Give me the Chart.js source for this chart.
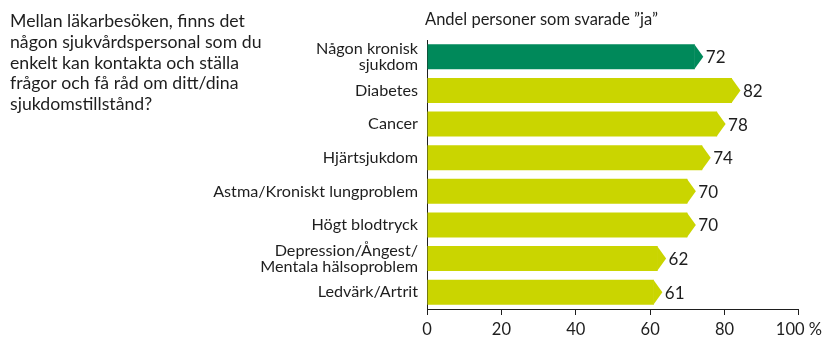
<!DOCTYPE html>
<html>
<head>
<meta charset="utf-8">
<script src="https://cdn.jsdelivr.net/npm/chart.js@4/dist/chart.umd.min.js"></script>
<style>
  html, body { margin: 0; padding: 0; background: #fff; }
  #wrap { width: 827px; height: 338px; position: relative; }
</style>
</head>
<body>
<div id="wrap"><canvas id="c" width="827" height="338"></canvas></div>
<script>
// Survey answers: share who said "ja", per diagnosis group
const categories = [
  ['Någon kronisk', 'sjukdom'],
  'Diabetes',
  'Cancer',
  'Hjärtsjukdom',
  'Astma/Kroniskt lungproblem',
  'Högt blodtryck',
  ['Depression/Ångest/', 'Mentala hälsoproblem'],
  'Ledvärk/Artrit'
];
const values = [72, 82, 78, 74, 70, 70, 62, 61];
const tickValues = [0, 20, 40, 60, 80, 100];
const tickLabels = ['0', '20', '40', '60', '80', '100 %'];
const questionLines = [
  'Mellan läkarbesöken, finns det',
  'någon sjukvårdspersonal som du',
  'enkelt kan kontakta och ställa',
  'frågor och få råd om ditt/dina',
  'sjukdomstillstånd?'
];
const axisTitle = 'Andel personer som svarade ”ja”';

const FONT = 'Lato, "Noto Sans", sans-serif';
const INK = '#1e1e1e';
const DARK_GREEN = '#00895a';
const LIME = '#cad500';
const barColors = values.map((v, i) => i === 0 ? DARK_GREEN : LIME);

// Arrow-head on each bar end, plus the value label after it
const arrowBars = {
  id: 'arrowBars',
  afterDatasetsDraw(chart) {
    const ctx = chart.ctx;
    const meta = chart.getDatasetMeta(0);
    ctx.save();
    meta.data.forEach((bar, i) => {
      const h = bar.height;
      const top = bar.y - h / 2;
      const bot = bar.y + h / 2;
      ctx.fillStyle = barColors[i];
      ctx.beginPath();
      ctx.moveTo(bar.x - 0.5, top);
      ctx.lineTo(bar.x + 8.5, bar.y);
      ctx.lineTo(bar.x - 0.5, bot);
      ctx.closePath();
      ctx.fill();
      ctx.fillStyle = INK;
      ctx.font = '17px ' + FONT;
      ctx.textAlign = 'left';
      ctx.textBaseline = 'middle';
      ctx.fillText(String(values[i]), bar.x + 11, bar.y + 1);
    });
    ctx.restore();
  }
};

// Question text on the left and the axis heading above the bars
const headings = {
  id: 'headings',
  afterDraw(chart) {
    const ctx = chart.ctx;
    ctx.save();
    ctx.fillStyle = INK;
    ctx.textAlign = 'left';
    ctx.textBaseline = 'alphabetic';
    ctx.font = '17.7px ' + FONT;
    questionLines.forEach((line, i) => {
      ctx.fillText(line, 10, 27 + i * 20.8);
    });
    ctx.font = '16.5px ' + FONT;
    ctx.fillText(axisTitle, chart.chartArea.left - 2, 25);
    ctx.restore();
  }
};

new Chart(document.getElementById('c'), {
  type: 'bar',
  data: {
    labels: categories,
    datasets: [{
      data: values,
      backgroundColor: barColors,
      borderWidth: 0,
      barPercentage: 0.74,
      categoryPercentage: 1.0
    }]
  },
  options: {
    indexAxis: 'y',
    responsive: false,
    animation: false,
    devicePixelRatio: 1,
    layout: { padding: { top: 40, right: 27, left: 0, bottom: 0 } },
    plugins: {
      legend: { display: false },
      tooltip: { enabled: false },
      title: { display: false }
    },
    scales: {
      x: {
        min: 0,
        max: 100,
        afterFit(scale) { scale.height = 29; },
        afterBuildTicks(scale) { scale.ticks = tickValues.map(v => ({ value: v })); },
        ticks: {
          color: INK,
          font: { family: FONT, size: 16.5 },
          padding: 5,
          maxRotation: 0,
          autoSkip: false,
          callback: (v) => tickLabels[tickValues.indexOf(v)]
        },
        grid: {
          drawOnChartArea: false,
          drawTicks: true,
          tickLength: 6,
          color: INK,
          lineWidth: 1
        },
        border: { display: true, color: INK, width: 1 }
      },
      y: {
        afterFit(scale) { scale.width = 427; },
        ticks: {
          color: INK,
          font: { family: FONT, size: 16.2, lineHeight: 1.0 },
          padding: 9,
          autoSkip: false,
          crossAlign: 'near'
        },
        grid: { display: false, drawTicks: false },
        border: { display: true, color: INK, width: 1 }
      }
    }
  },
  plugins: [arrowBars, headings]
});
</script>
</body>
</html>
